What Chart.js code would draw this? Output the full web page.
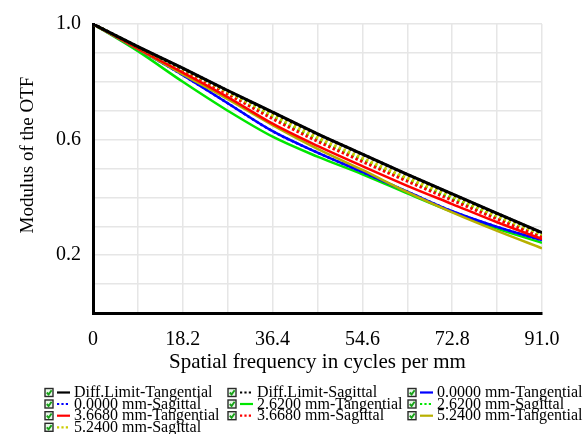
<!DOCTYPE html>
<html>
<head>
<meta charset="utf-8">
<script src="https://cdn.jsdelivr.net/npm/chart.js@4/dist/chart.umd.min.js"></script>
<style>
  html, body { margin: 0; padding: 0; background: #fff; }
  canvas { display: block; }
</style>
</head>
<body>
<canvas id="otfChart" width="587" height="434"></canvas>
<script>
// spatial frequency samples (cycles per mm)
const freq = [0, 9.1, 18.2, 27.3, 36.4, 45.5, 54.6, 63.7, 72.8, 81.9, 91.0];

// modulus of the OTF
const diffTan = [1.0, 0.922, 0.847, 0.770, 0.695, 0.620, 0.550, 0.480, 0.412, 0.345, 0.278];
const diffSag = [1.0, 0.921, 0.846, 0.769, 0.694, 0.619, 0.549, 0.479, 0.411, 0.344, 0.277];
const tan0000 = [1.0, 0.913, 0.823, 0.726, 0.629, 0.555, 0.488, 0.420, 0.352, 0.298, 0.252];
const sag0000 = [1.0, 0.913, 0.823, 0.726, 0.629, 0.555, 0.488, 0.420, 0.352, 0.298, 0.252];
const tan2620 = [1.0, 0.906, 0.800, 0.700, 0.610, 0.541, 0.480, 0.414, 0.350, 0.292, 0.243];
const sag2620 = [1.0, 0.919, 0.842, 0.762, 0.678, 0.600, 0.530, 0.461, 0.396, 0.330, 0.266];
const tan3668 = [1.0, 0.915, 0.832, 0.747, 0.655, 0.578, 0.508, 0.440, 0.377, 0.314, 0.256];
const sag3668 = [1.0, 0.918, 0.840, 0.758, 0.672, 0.594, 0.524, 0.456, 0.390, 0.325, 0.262];
const tan5240 = [1.0, 0.913, 0.826, 0.740, 0.650, 0.568, 0.495, 0.418, 0.348, 0.284, 0.224];
const sag5240 = [1.0, 0.920, 0.844, 0.765, 0.685, 0.607, 0.536, 0.467, 0.404, 0.336, 0.272];

const seriesLabels = [
  'Diff.Limit-Tangential', 'Diff.Limit-Sagittal', '0.0000 mm-Tangential',
  '0.0000 mm-Sagittal', '2.6200 mm-Tangential', '2.6200 mm-Sagittal',
  '3.6680 mm-Tangential', '3.6680 mm-Sagittal', '5.2400 mm-Tangential',
  '5.2400 mm-Sagittal'
];

const xTicks = [0, 9.1, 18.2, 27.3, 36.4, 45.5, 54.6, 63.7, 72.8, 81.9, 91.0];
const xTickLabels = ['0', '', '18.2', '', '36.4', '', '54.6', '', '72.8', '', '91.0'];
const yTicks = [0, 0.1, 0.2, 0.3, 0.4, 0.5, 0.6, 0.7, 0.8, 0.9, 1.0];
const yTickLabels = ['', '', '0.2', '', '', '', '0.6', '', '', '', '1.0'];

const serif = "'Liberation Serif', 'Times New Roman', serif";

const toPoints = (arr) => freq.map((x, i) => ({ x: x, y: arr[i] }));

// order: lower number is drawn on top
const makeSet = (label, values, color, dotted, width, order) => ({
  label: label,
  data: toPoints(values),
  borderColor: color,
  backgroundColor: color,
  borderWidth: width,
  borderDash: dotted ? [2.5, 2.5] : [],
  pointRadius: 0,
  fill: false,
  order: order,
  cubicInterpolationMode: 'monotone'
});

const datasets = [
  makeSet(seriesLabels[0], diffTan, '#000000', false, 3, 0),
  makeSet(seriesLabels[1], diffSag, '#000000', true, 3, 1),
  makeSet(seriesLabels[2], tan0000, '#0000ff', false, 2.5, 8),
  makeSet(seriesLabels[3], sag0000, '#0000ff', true, 2.5, 7),
  makeSet(seriesLabels[4], tan2620, '#00e600', false, 2.5, 9),
  makeSet(seriesLabels[5], sag2620, '#00e600', true, 3, 4),
  makeSet(seriesLabels[6], tan3668, '#ff0000', false, 2.5, 5),
  makeSet(seriesLabels[7], sag3668, '#ff0000', true, 3, 3),
  makeSet(seriesLabels[8], tan5240, '#b8b000', false, 2.5, 6),
  makeSet(seriesLabels[9], sag5240, '#cccc00', true, 3, 2)
];

// y axis title, placed like the original (a bit above the plot centre)
const yTitle = {
  id: 'yTitle',
  afterDraw(chart) {
    const ctx = chart.ctx;
    ctx.save();
    ctx.translate(28, 155);
    ctx.rotate(-Math.PI / 2);
    ctx.font = '19px ' + serif;
    ctx.fillStyle = '#000';
    ctx.textAlign = 'center';
    ctx.textBaseline = 'middle';
    ctx.fillText('Modulus of the OTF', 0, 0);
    ctx.restore();
  }
};

// legend drawn in 3 tight columns like the original
const gridLegend = {
  id: 'gridLegend',
  afterDraw(chart) {
    const ctx = chart.ctx;
    const colX = [45, 228, 408];
    const rowY = [392.5, 404, 415.7, 427.3];
    ctx.save();
    ctx.font = '16px ' + serif;
    ctx.textBaseline = 'middle';
    chart.data.datasets.forEach((ds, i) => {
      const x = colX[i % 3];
      const y = rowY[Math.floor(i / 3)];
      // check box
      ctx.setLineDash([]);
      ctx.fillStyle = '#e9f7e9';
      ctx.fillRect(x, y - 4, 8, 8);
      ctx.strokeStyle = '#2b2b2b';
      ctx.lineWidth = 1.4;
      ctx.strokeRect(x, y - 4, 8, 8);
      ctx.strokeStyle = '#17a317';
      ctx.lineWidth = 1.9;
      ctx.beginPath();
      ctx.moveTo(x + 1.8, y);
      ctx.lineTo(x + 3.6, y + 2);
      ctx.lineTo(x + 6.6, y - 2.2);
      ctx.stroke();
      // line sample
      ctx.strokeStyle = ds.borderColor;
      ctx.lineWidth = 2.2;
      ctx.setLineDash(ds.borderDash.length ? [2.2, 2.2] : []);
      ctx.beginPath();
      ctx.moveTo(x + 12, y);
      ctx.lineTo(x + 25, y);
      ctx.stroke();
      ctx.setLineDash([]);
      ctx.fillStyle = '#000';
      ctx.fillText(ds.label, x + 29, y + 0.5);
    });
    ctx.restore();
  }
};

new Chart(document.getElementById('otfChart').getContext('2d'), {
  type: 'line',
  data: { datasets: datasets },
  plugins: [yTitle, gridLegend],
  options: {
    responsive: false,
    animation: false,
    layout: { padding: { top: 21, right: 45, bottom: 56, left: 0 } },
    plugins: {
      legend: { display: false },
      tooltip: { enabled: false }
    },
    scales: {
      x: {
        type: 'linear',
        min: 0,
        max: 91,
        afterBuildTicks: (scale) => { scale.ticks = xTicks.map(v => ({ value: v })); },
        afterFit: (scale) => { scale.height = 65; },
        ticks: {
          autoSkip: false,
          maxRotation: 0,
          padding: 15,
          color: '#000',
          font: { family: serif, size: 20 },
          callback: (value, index) => xTickLabels[index]
        },
        grid: { color: '#e6e6e6', lineWidth: 1.5, drawTicks: false },
        border: { display: true, color: '#000', width: 3 },
        title: {
          display: true,
          text: 'Spatial frequency in cycles per mm',
          color: '#000',
          font: { family: serif, size: 21 },
          padding: { top: 0, bottom: 3 }
        }
      },
      y: {
        type: 'linear',
        min: 0,
        max: 1,
        afterBuildTicks: (scale) => { scale.ticks = yTicks.map(v => ({ value: v })); },
        afterFit: (scale) => { scale.width = 93; },
        ticks: {
          autoSkip: false,
          padding: 12,
          color: '#000',
          font: { family: serif, size: 20 },
          callback: (value, index) => yTickLabels[index]
        },
        grid: { color: '#e6e6e6', lineWidth: 1.5, drawTicks: false },
        border: { display: true, color: '#000', width: 3 }
      }
    }
  }
});
</script>
</body>
</html>
